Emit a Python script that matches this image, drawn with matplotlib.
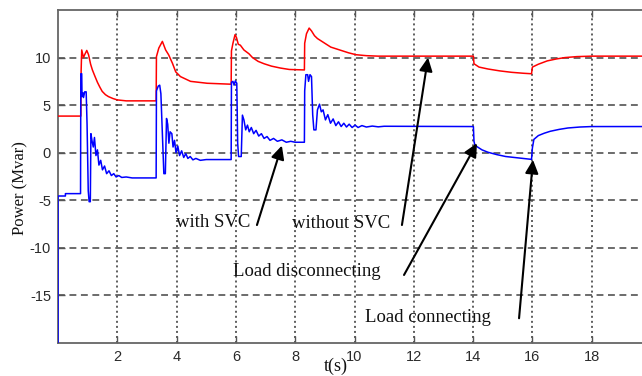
import matplotlib
matplotlib.use("Agg")
import matplotlib.pyplot as plt

plt.rcParams["axes.unicode_minus"] = False

# ---------------- data ----------------
t_without = [0.0, 0.77, 0.78, 0.80, 0.86, 0.90, 0.97, 1.03, 1.10, 1.16, 1.25, 1.33, 1.41,
             1.49, 1.60, 1.70, 1.85, 2.00, 2.30, 3.31,
             3.32, 3.40, 3.52, 3.63, 3.73, 3.86, 3.97, 4.13, 4.47, 5.03, 5.84,
             5.85, 5.90, 5.97, 6.02, 6.08, 6.15, 6.27, 6.44, 6.56, 6.75, 6.95, 7.20, 7.50,
             7.80, 8.31,
             8.32, 8.38, 8.47, 8.55, 8.65, 8.75, 8.90, 9.05, 9.20, 9.50, 9.80, 10.05, 10.40,
             10.80, 14.01,
             14.03, 14.20, 14.50, 14.90, 15.30, 15.70, 15.97,
             16.00, 16.20, 16.50, 16.80, 17.10, 17.50, 18.00, 20.0]
p_without = [3.85, 3.85, 8.6, 10.8, 10.0, 10.3, 10.75, 10.3, 9.3, 8.7, 8.0, 7.4, 6.9,
             6.45, 6.1, 5.9, 5.7, 5.55, 5.45, 5.45,
             10.1, 11.0, 11.7, 10.8, 10.3, 9.4, 8.5, 8.0, 7.5, 7.3, 7.2,
             10.7, 11.5, 12.4, 12.1, 11.4, 11.3, 10.8, 10.4, 10.0, 9.6, 9.35, 9.1, 8.9,
             8.75, 8.7,
             11.5, 12.5, 13.1, 12.8, 12.3, 12.0, 11.7, 11.4, 11.1, 10.8, 10.5, 10.3, 10.2,
             10.15, 10.15,
             9.35, 9.0, 8.8, 8.6, 8.45, 8.35, 8.3,
             9.0, 9.3, 9.65, 9.85, 10.0, 10.1, 10.15, 10.15]

t_with = [0.0, 0.0, 0.25, 0.25, 0.76, 0.77, 0.80, 0.81, 0.84, 0.86, 0.90, 0.95, 0.98, 1.02,
          1.05, 1.09, 1.11, 1.15, 1.19, 1.23, 1.28, 1.33, 1.38, 1.44, 1.50, 1.57, 1.64,
          1.72, 1.80, 1.88, 1.96, 2.05, 2.15, 2.30, 2.50, 3.31,
          3.32, 3.38, 3.43, 3.47, 3.52, 3.57, 3.62, 3.66, 3.70, 3.74, 3.78, 3.84, 3.88,
          3.93, 3.98, 4.04, 4.10, 4.17, 4.24, 4.31, 4.38, 4.46, 4.55, 4.65, 4.80, 5.00, 5.84,
          5.85, 5.90, 5.94, 5.98, 6.03, 6.06, 6.09, 6.18, 6.22, 6.27, 6.33, 6.39, 6.45,
          6.52, 6.60, 6.68, 6.77, 6.86, 6.95, 7.05, 7.15, 7.27, 7.40, 7.55, 7.70, 7.85,
          8.00, 8.31,
          8.32, 8.36, 8.42, 8.45, 8.50, 8.55, 8.59, 8.63, 8.70, 8.75, 8.82, 8.88, 8.94,
          9.02, 9.10, 9.19, 9.28, 9.37, 9.46, 9.55, 9.64, 9.73, 9.82, 9.92, 10.02, 10.12,
          10.25, 10.40, 10.60, 10.80, 11.00, 14.01,
          14.03, 14.06, 14.15, 14.30, 14.50, 14.80, 15.10, 15.40, 15.70, 15.97,
          16.00, 16.05, 16.20, 16.40, 16.60, 16.90, 17.20, 17.60, 18.00, 20.0]
p_with = [-20.0, -4.55, -4.55, -4.3, -4.3, 8.3, 8.3, 5.9, 6.3, 5.8, 6.4, 6.4, 3.0, -4.0,
          -5.15, -5.15, 2.0, 1.2, 0.6, 1.6, -0.3, 0.3, -1.3, -0.8, -1.8, -1.4, -2.2,
          -1.9, -2.4, -2.2, -2.55, -2.4, -2.6, -2.55, -2.65, -2.65,
          6.5, 7.0, 7.1, 6.2, 2.0, -2.2, -2.2, 3.6, 3.0, 1.0, 2.2, 2.0, 0.6,
          1.3, 0.0, 0.7, -0.3, 0.2, -0.5, -0.1, -0.6, -0.4, -0.75, -0.6, -0.8, -0.72, -0.72,
          7.4, 7.5, 7.1, 7.55, 7.3, 1.0, -0.4, -0.4, 3.95, 3.45, 2.4, 2.9, 2.2,
          2.65, 2.0, 2.35, 1.75, 2.0, 1.5, 1.7, 1.3, 1.5, 1.2, 1.35, 1.1, 1.2,
          1.1, 1.1,
          6.5, 8.2, 8.2, 7.5, 8.2, 8.0, 4.0, 2.4, 2.4, 4.5, 5.1, 4.3, 4.5,
          3.45, 4.0, 3.1, 3.55, 2.85, 3.25, 2.75, 3.1, 2.7, 3.0, 2.65, 2.9, 2.65,
          2.85, 2.7, 2.8, 2.72, 2.78, 2.75,
          1.2, 0.8, 0.6, 0.3, 0.05, -0.2, -0.4, -0.5, -0.6, -0.7,
          0.5, 1.4, 1.8, 2.05, 2.25, 2.45, 2.6, 2.7, 2.75, 2.75]

x_ticks = [2, 4, 6, 8, 10, 12, 14, 16, 18]
y_ticks = [-15, -10, -5, 0, 5, 10]

annotations = [
    # text, text x, text y, ha, arrow tail (x, y), arrow tip (x, y)
    ("with SVC", 6.48, -7.3, "right", (6.71, -7.6), (7.55, 0.75)),
    ("without SVC", 7.89, -7.4, "left", (11.6, -7.6), (12.48, 10.0)),
    ("Load disconnecting", 5.9, -12.45, "left", (11.67, -12.85), (14.13, 1.0)),
    ("Load connecting", 10.35, -17.3, "left", (15.55, -17.4), (16.02, -0.75)),
]

# ---------------- figure ----------------
W, H = 642, 376
fig = plt.figure(figsize=(W / 100, H / 100), dpi=100)
L, R, T, B = 58, 651, 10, 343
ax = fig.add_axes([L / W, 1 - B / H, (R - L) / W, (B - T) / H])
ax.set_xlim(0, 20)
ax.set_ylim(-20, 15)

ax.plot(t_without, p_without, color="#ff0000", lw=1.1, zorder=3)
ax.plot(t_with, p_with, color="#0000ff", lw=1.1, zorder=3)

ax.set_xticks(x_ticks)
ax.set_yticks(y_ticks)
for x in x_ticks:
    ax.axvline(x, color="#333333", lw=1.1, ls=(0, (1.3, 2.0)), zorder=1)
for y in y_ticks:
    ax.axhline(y, color="#444444", lw=1.1, ls=(0, (4.5, 3.0)), zorder=1)

ax.tick_params(direction="in", length=5, width=1, colors="#555555",
               labelcolor="#2a2a2a", labelsize=10.5, pad=5, top=True, right=False)
for lab in ax.get_xticklabels() + ax.get_yticklabels():
    lab.set_fontfamily("Liberation Sans")
for side in ["left", "bottom", "top"]:
    ax.spines[side].set_color("#666666")
    ax.spines[side].set_linewidth(1.3)
ax.spines["right"].set_visible(False)

for text, tx, ty, ha, tail, tip in annotations:
    ax.text(tx, ty, text, ha=ha, va="center", fontsize=13.5,
            family="Liberation Serif", color="#111111", zorder=5)
    ax.annotate("", xy=tip, xytext=tail,
                arrowprops=dict(arrowstyle="-|>,head_length=0.45,head_width=0.22",
                                color="black", lw=1.5, mutation_scale=18,
                                shrinkA=0, shrinkB=0), zorder=5)

fig.text(20.5 / W, 1 - 188 / H, "Power (Mvar)", rotation=90, ha="center",
         va="center", fontsize=12, family="Liberation Serif", color="#111111")
fig.text(336 / W, 1 - 375 / H, "t(s)", ha="center", va="bottom", fontsize=13,
         family="Liberation Serif", color="#111111")

fig.savefig("out.png", dpi=100, facecolor="white")
